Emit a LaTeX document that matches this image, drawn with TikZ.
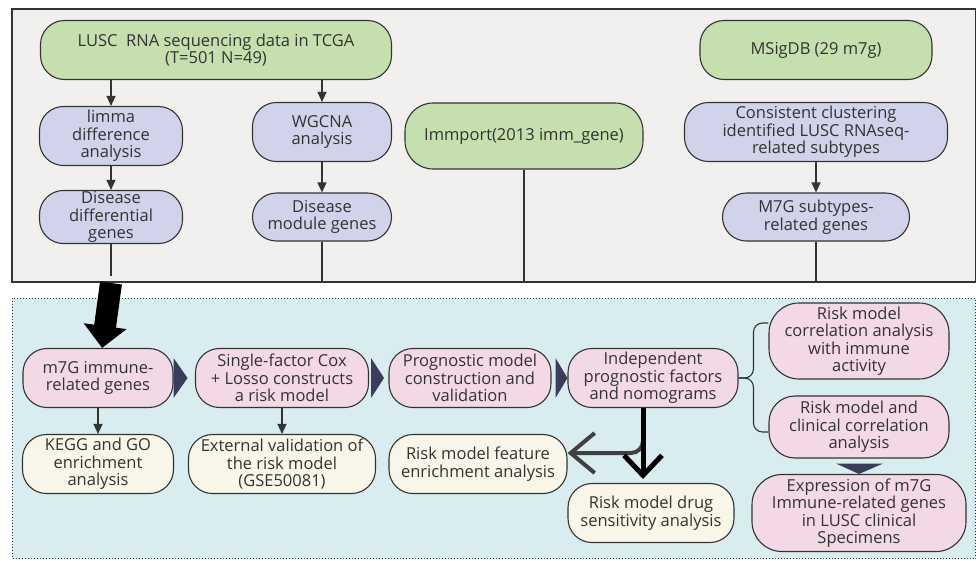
\documentclass[tikz,border=0pt]{standalone}
\usepackage{fontspec}
\setmainfont{Open Sans}
\usetikzlibrary{arrows.meta,shapes,positioning}

\definecolor{topgray}{HTML}{F1F0EF}
\definecolor{botcyan}{HTML}{D9ECEF}
\definecolor{greenfill}{HTML}{C5E0AE}
\definecolor{bluefill}{HTML}{D0D3EA}
\definecolor{pinkfill}{HTML}{F3D9E6}
\definecolor{creamfill}{HTML}{F8F6E8}
\definecolor{navy}{HTML}{3A3D5C}
\definecolor{ink}{HTML}{333333}

\begin{document}
\begin{tikzpicture}[x=1pt,y=-1pt,>={Triangle[width=9pt,length=10pt]},
                  font=\fontsize{16.5}{17.5}\selectfont,
                  box/.style={draw=ink,line width=1.1pt,rounded corners=24pt,align=center,text=ink,inner sep=1pt},
                  green node/.style={box,fill=greenfill},
                  blue node/.style={box,fill=bluefill},
                  pink node/.style={box,fill=pinkfill},
                  cream node/.style={box,fill=creamfill},
                  link/.style={draw=ink,line width=1.1pt},
                  chev/.style={fill=navy}]

    \useasboundingbox (0,0) rectangle (976,560);
    \draw[fill=topgray,draw=ink,line width=1.2pt] (12,9) rectangle (975.5,282);
    \draw[fill=botcyan,draw=ink,dotted,line width=1pt] (12,298) rectangle (975.5,558.5);
    \coordinate (topedge) at (0,282);

    % top panel
    \node[green node,minimum width=351pt,minimum height=59pt] (tcga) at (216,50) {LUSC\ \ RNA sequencing data in TCGA\\(T=501 N=49)};
    \node[blue node,minimum width=143pt,minimum height=59pt] (limma) at (111,136) {limma\\difference\\analysis};
    \node[blue node,minimum width=143pt,minimum height=53pt] (diff) at (111,217) {Disease\\differential\\genes};
    \node[blue node,minimum width=139pt,minimum height=59pt] (wgcna) at (322,132) {WGCNA\\analysis};
    \node[blue node,minimum width=139pt,minimum height=48pt] (module) at (322,217) {Disease\\module genes};
    \node[green node,minimum width=238pt,minimum height=66pt,rounded corners=28pt] (immport) at (524,136) {Immport(2013 imm\_gene)};
    \node[green node,minimum width=232pt,minimum height=59pt] (msig) at (816,50) {MSigDB (29 m7g)};
    \node[blue node,minimum width=263pt,minimum height=59pt] (cluster) at (816,132) {Consistent clustering\\identified LUSC RNAseq-\\related subtypes};
    \node[blue node,minimum width=187pt,minimum height=48pt] (subgenes) at (816,217) {M7G subtypes-\\related genes};

    \draw[link,->] (tcga.south -| limma) -- (limma);
    \draw[link,->] (tcga.south -| wgcna) -- (wgcna);
    \draw[link,->] (limma) -- (diff);
    \draw[link,->] (wgcna) -- (module);
    \draw[link,->] (cluster) -- (subgenes);
    \draw[link] (diff) -- ([yshift=6pt]diff |- topedge);
    \draw[link] (module) -- (module |- topedge);
    \draw[link] (immport) -- (immport |- topedge);
    \draw[link] (subgenes) -- (subgenes |- topedge);

    % bottom panel
    \node[pink node,minimum width=150pt,minimum height=59pt] (m7g) at (98,378) {m7G immune-\\related genes};
    \node[pink node,minimum width=173pt,minimum height=59pt] (cox) at (282,378) {Single-factor Cox\\+ Losso constructs\\a risk model};
    \node[pink node,minimum width=162pt,minimum height=59pt] (prog) at (470,378) {Prognostic model\\construction and\\validation};
    \node[pink node,minimum width=170pt,minimum height=59pt] (indep) at (653,378) {Independent\\prognostic factors\\and nomograms};
    \node[pink node,minimum width=180pt,minimum height=76pt,rounded corners=30pt] (corr) at (859,341) {Risk model\\correlation analysis\\with immune\\activity};
    \node[pink node,minimum width=180pt,minimum height=62pt,rounded corners=26pt] (clin) at (859,427) {Risk model and\\clinical correlation\\analysis};
    \node[pink node,minimum width=214pt,minimum height=77pt,rounded corners=30pt] (expr) at (859,513) {Expression of m7G\\Immune-related genes\\in LUSC clinical\\Specimens};
    \node[cream node,minimum width=151pt,minimum height=59pt] (kegg) at (98,464) {KEGG and GO\\enrichment\\analysis};
    \node[cream node,minimum width=187pt,minimum height=59pt] (extval) at (282,464) {External validation of\\the risk model\\(GSE50081)};
    \node[cream node,minimum width=178pt,minimum height=59pt] (feat) at (478,464) {Risk model feature\\enrichment analysis};
    \node[cream node,minimum width=166pt,minimum height=59pt] (drug) at (651,513) {Risk model drug\\sensitivity analysis};

    \draw[black,line width=22pt,-{Triangle[width=42pt,length=22pt]}] ([yshift=-1pt]diff |- topedge) -- (m7g);

    \fill[chev] ([yshift=-20pt]m7g.east) -- ([xshift=14pt]m7g.east) -- ([yshift=20pt]m7g.east) -- cycle;
    \fill[chev] ([yshift=-20pt,xshift=2pt]cox.east) -- ([xshift=15pt]cox.east) -- ([yshift=20pt,xshift=2pt]cox.east) -- cycle;
    \fill[chev] ([yshift=-20pt,xshift=4pt]prog.east) -- (indep.west) -- ([yshift=20pt,xshift=4pt]prog.east) -- cycle;
    \fill[chev] ([xshift=-23pt,yshift=-5pt]clin.south) -- ([xshift=24pt,yshift=-5pt]clin.south) -- (expr.north) -- cycle;

    \draw[link,->] (m7g) -- (kegg);
    \draw[link,->] (cox) -- (extval);

    % brace
    \coordinate (bmid) at ([xshift=-15pt]corr.west);
    \draw[link,rounded corners=9pt] ([yshift=18pt]corr.west) -| (bmid |- indep.east) -- (indep.east);
    \draw[link,rounded corners=9pt] ([yshift=-5pt]clin.west) -| (bmid |- indep.east) -- (indep.east);

    \coordinate (fork) at ([xshift=-10pt,yshift=-32pt]indep.south);
    \draw[black!75,line width=4pt,rounded corners=12pt,-{Straight Barb[length=24pt,width=40pt]}] (fork) |- ([yshift=11pt]feat.east);
    \draw[black,line width=5pt,shorten >=4pt,-{Straight Barb[length=20pt,width=38pt]}] ([xshift=-10pt]indep.south) -- ([xshift=-8pt]drug.north);
  \end{tikzpicture}
\end{document}
